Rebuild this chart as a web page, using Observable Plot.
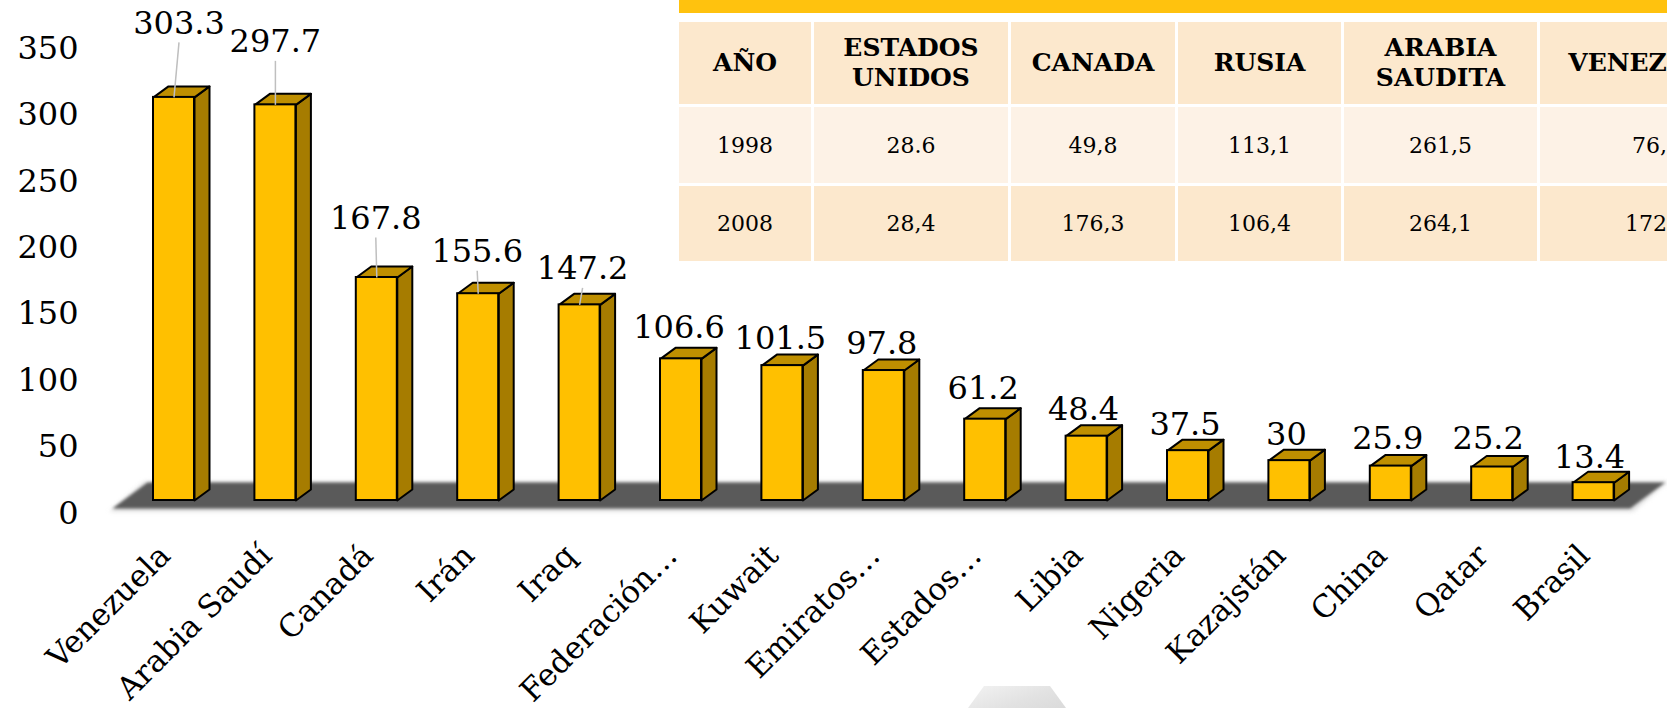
<!DOCTYPE html>
<html>
<head>
<meta charset="utf-8">
<script src="https://cdn.jsdelivr.net/npm/d3@7"></script>
<script src="https://cdn.jsdelivr.net/npm/@observablehq/plot@0.6"></script>
<style>
html, body { margin: 0; padding: 0; background: #fff; overflow: hidden; width: 1667px; height: 708px; }
#wrap { position: relative; width: 1667px; height: 708px; overflow: hidden; }
#chart { position: absolute; left: 0; top: 0; }
#tbl { position: absolute; left: 679px; top: 0; width: 988px; height: 270px; overflow: hidden; font-family: "DejaVu Serif", serif; color: #000; }
#tbl .band { position: absolute; left: 0; top: 0; height: 13px; width: 1200px; background: #FFC20E; }
#tbl .row { position: absolute; left: 0; display: flex; }
#tbl .cell { flex: none; display: flex; align-items: center; justify-content: center; text-align: center; margin-right: 3px; box-sizing: border-box; white-space: normal; }
#tbl .head .cell { background: #FCE8CD; font-weight: bold; font-size: 25px; line-height: 30px; }
#tbl .r1 .cell { background: #FDF2E6; font-size: 22px; }
#tbl .r2 .cell { background: #FCE8CD; font-size: 22px; }
#blob { position: absolute; left: 966px; top: 686px; width: 100px; height: 22px;
  clip-path: polygon(2% 100%, 18% 0%, 84% 0%, 100% 100%);
  background: linear-gradient(160deg, #f3f3f3 0%, #e2e2e2 60%, #dadada 100%); }
</style>
</head>
<body>
<div id="wrap">
  <div id="chart"></div>
  <div id="tbl"></div>
  <div id="blob"></div>
</div>
<script>
// ---------------- data ----------------
const countries = ["Venezuela", "Arabia Saudí", "Canadá", "Irán", "Iraq", "Federación…", "Kuwait", "Emiratos…", "Estados…", "Libia", "Nigeria", "Kazajstán", "China", "Qatar", "Brasil"];
const reserves = [303.3, 297.7, 167.8, 155.6, 147.2, 106.6, 101.5, 97.8, 61.2, 48.4, 37.5, 30, 25.9, 25.2, 13.4];
const yTicks = [0, 50, 100, 150, 200, 250, 300, 350];

const tableHeader = ["AÑO", "ESTADOS UNIDOS", "CANADA", "RUSIA", "ARABIA SAUDITA", "VENEZUELA"];
const row1998 = ["1998", "28.6", "49,8", "113,1", "261,5", "76,1"];
const row2008 = ["2008", "28,4", "176,3", "106,4", "264,1", "172,3"];

// ---------------- layout (pixels) ----------------
const W = 1667, H = 708;
const mL = 122.8, mR = 23.2, mT = 34.85, mB = 208;
const pxPerX = (W - mL - mR) / countries.length;
const pxPerY = (H - mT - mB) / 350;
const halfW = 20.5 / pxPerX;
const depthX = 15 / pxPerX;
const depthY = 11 / pxPerY;
// value label lift above bar front top, and horizontal shift (px)
const labelLift = [74, 63, 59, 42, 36, 31, 27, 27, 30, 26, 26, 26, 27, 28, 25];
const labelShift = [5, 0, -1, -1, 3, -2, -2, -2, -2, -3, -3, -3, -3, -4, -4];
const leaderCount = 5;
// floor parallelogram (px offsets relative to first/last bar centre & baseline)
const floorPx = {frontLeft: -61.5, backLeft: -26.5, frontRight: 36.5, backRight: 71.5, front: -8, back: 18};

const data = countries.map((c, i) => ({c, i, v: reserves[i]}));

const n = countries.length;
function poly(id, pts) { return pts.map(([x, y]) => ({id, x, y})); }

const floorPts = (grow) => poly(0, [
  [(floorPx.frontLeft - grow) / pxPerX, (floorPx.front - grow) / pxPerY],
  [n - 1 + (floorPx.frontRight + grow) / pxPerX, (floorPx.front - grow) / pxPerY],
  [n - 1 + (floorPx.backRight + grow) / pxPerX, (floorPx.back + grow * 0.3) / pxPerY],
  [(floorPx.backLeft - grow) / pxPerX, (floorPx.back + grow * 0.3) / pxPerY]
]);

const sidePts = data.flatMap(d => {
  const x = d.i + halfW;
  return poly(d.i, [[x, 0], [x + depthX, depthY], [x + depthX, d.v + depthY], [x, d.v], [x, 0]]);
});
const topPts = data.flatMap(d => {
  const x1 = d.i - halfW, x2 = d.i + halfW;
  return poly(d.i, [[x1, d.v], [x2, d.v], [x2 + depthX, d.v + depthY], [x1 + depthX, d.v + depthY], [x1, d.v]]);
});

const chart = Plot.plot({
  width: W,
  height: H,
  marginLeft: mL,
  marginRight: mR,
  marginTop: mT,
  marginBottom: mB,
  style: {fontFamily: '"DejaVu Serif", serif', background: "transparent", overflow: "visible"},
  x: {type: "linear", domain: [-0.5, n - 0.5], axis: null},
  y: {domain: [0, 350]},
  marks: [
    Plot.line(floorPts(3), {x: "x", y: "y", z: "id", fill: "#dedede", stroke: "none", imageFilter: "blur(2px)"}),
    Plot.line(floorPts(0), {x: "x", y: "y", z: "id", fill: "#5a5a5a", stroke: "none", imageFilter: "blur(1.5px)"}),
    Plot.line(sidePts, {x: "x", y: "y", z: "id", fill: "#A67C00", stroke: "#000", strokeWidth: 2, strokeLinejoin: "round"}),
    Plot.line(topPts, {x: "x", y: "y", z: "id", fill: "#BF8F00", stroke: "#000", strokeWidth: 2, strokeLinejoin: "round"}),
    Plot.rect(data, {x1: d => d.i - halfW, x2: d => d.i + halfW, y1: 0, y2: "v", fill: "#FFC000", stroke: "#000", strokeWidth: 2}),
    Plot.link(data.slice(0, leaderCount), {
      x1: "i", y1: "v",
      x2: d => d.i + labelShift[d.i] / pxPerX,
      y2: d => d.v + (labelLift[d.i] - 19) / pxPerY,
      stroke: "#bfbfbf", strokeWidth: 1.5
    }),
    Plot.text(data, {
      x: d => d.i + labelShift[d.i] / pxPerX,
      y: d => d.v + labelLift[d.i] / pxPerY,
      text: d => String(d.v),
      fontSize: 32, lineAnchor: "middle", fill: "#000"
    }),
    Plot.text(data, {
      x: "i", y: 0, text: "c",
      rotate: -45, textAnchor: "end", lineAnchor: "bottom",
      dx: -2, dy: 57, fontSize: 31, fill: "#000"
    }),
    Plot.axisY(yTicks, {anchor: "left", tickSize: 0, tickPadding: mL - 78, dy: 13, fontSize: 32, textAnchor: "end", tickFormat: d => String(d), fill: "#000"})
  ]
});
document.getElementById("chart").appendChild(chart);

// ---------------- table ----------------
const colWidths = [132, 194, 164, 163, 193, 233];
const tbl = document.getElementById("tbl");
const band = document.createElement("div");
band.className = "band";
tbl.appendChild(band);
function addRow(values, cls, top, h) {
  const r = document.createElement("div");
  r.className = "row " + cls;
  r.style.top = top + "px";
  values.forEach((v, j) => {
    const c = document.createElement("div");
    c.className = "cell";
    c.style.width = colWidths[j] + "px";
    c.style.height = h + "px";
    c.textContent = v;
    if (cls === "head") c.style.padding = "0 14px";
    r.appendChild(c);
  });
  tbl.appendChild(r);
}
addRow(tableHeader, "head", 22, 82);
addRow(row1998, "r1", 107, 76);
addRow(row2008, "r2", 185.5, 75);
</script>
</body>
</html>
